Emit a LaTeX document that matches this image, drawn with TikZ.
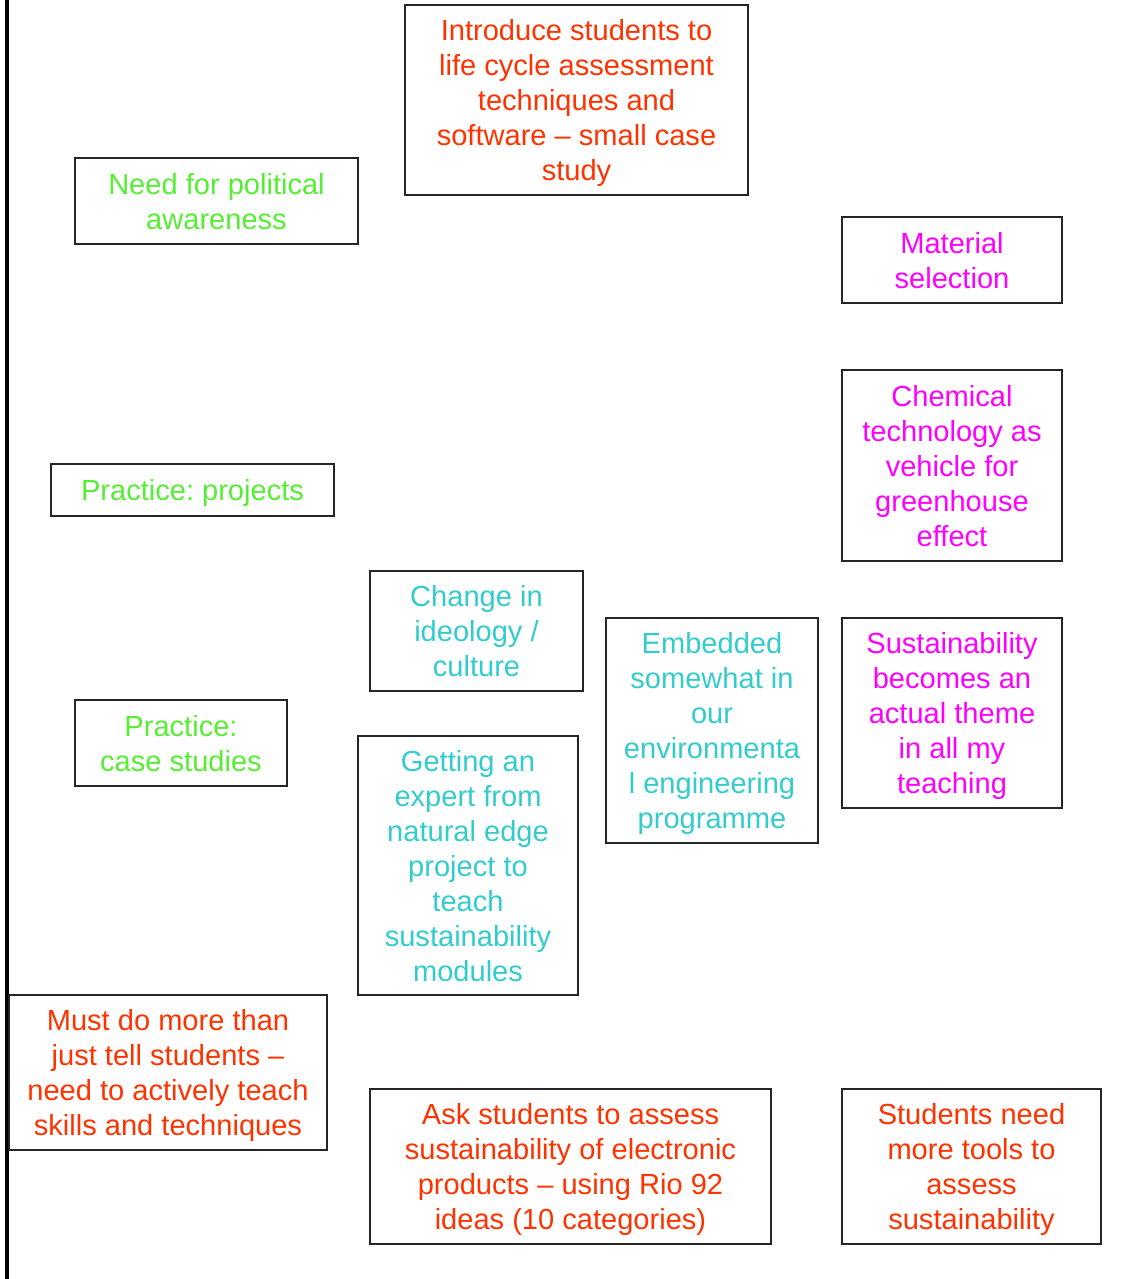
\documentclass[tikz,border=0pt]{standalone}
\usepackage{fontspec}
\setmainfont{Liberation Sans}
\frenchspacing
\definecolor{cred}{HTML}{FF3300}
\definecolor{cgreen}{HTML}{55EE33}
\definecolor{cmag}{HTML}{FF00FF}
\definecolor{ccyan}{HTML}{33CCCC}
\begin{document}
\begin{tikzpicture}[x=0.75pt,y=-0.75pt,
  box/.style={draw=black!85, line width=1.1pt, align=center, inner sep=0pt,
    font=\fontsize{21.8}{26.25}\selectfont, text depth=0pt},
  sz/.style 2 args={minimum width=#1*0.75pt, minimum height=#2*0.75pt},
  redtxt/.style={box, text=cred},
  greentxt/.style={box, text=cgreen},
  magtxt/.style={box, text=cmag},
  cyantxt/.style={box, text=ccyan}]
\useasboundingbox (0,0) rectangle (1129,1279);

% left rule
\coordinate (ruletop) at (7,0);
\coordinate (rulebot) at (7,1279);
\draw[line width=2.6pt] (ruletop) -- (rulebot);

\node[redtxt, sz={343}{190}] (lca) at (576.5,100)
  {Introduce students to\\life cycle assessment\\techniques and\\software – small case\\study};
\node[greentxt, sz={283}{86}] (political) at (216.5,201)
  {Need for political\\awareness};
\node[magtxt, sz={220}{86}] (material) at (952,260)
  {Material\\selection};
\node[magtxt, sz={220}{191}] (chemical) at (952,465.5)
  {Chemical\\technology as\\vehicle for\\greenhouse\\effect};
\node[greentxt, sz={283}{52}] (projects) at (192.5,490)
  {Practice: projects};
\node[cyantxt, sz={213}{120}] (ideology) at (476.5,631)
  {Change in\\ideology /\\culture};
\node[cyantxt, sz={212}{225}] (embedded) at (712,730.5)
  {Embedded\\somewhat in\\our\\environmenta\\l engineering\\programme};
\node[magtxt, sz={220}{190}] (theme) at (952,713)
  {Sustainability\\becomes an\\actual theme\\in all my\\teaching};
\node[greentxt, sz={212}{86}] (cases) at (181,743)
  {Practice:\\case studies};
\node[cyantxt, sz={220}{259}] (expert) at (468,865.5)
  {Getting an\\expert from\\natural edge\\project to\\teach\\sustainability\\modules};
\node[redtxt, sz={318}{155}] (activeteach) at (168,1072.5)
  {Must do more than\\just tell students –\\need to actively teach\\skills and techniques};
\node[redtxt, sz={401}{155}] (rio) at (570.5,1166.5)
  {Ask students to assess\\sustainability of electronic\\products – using Rio 92\\ideas (10 categories)};
\node[redtxt, sz={259}{155}] (tools) at (971.5,1166.5)
  {Students need\\more tools to\\assess\\sustainability};
\end{tikzpicture}
\end{document}
